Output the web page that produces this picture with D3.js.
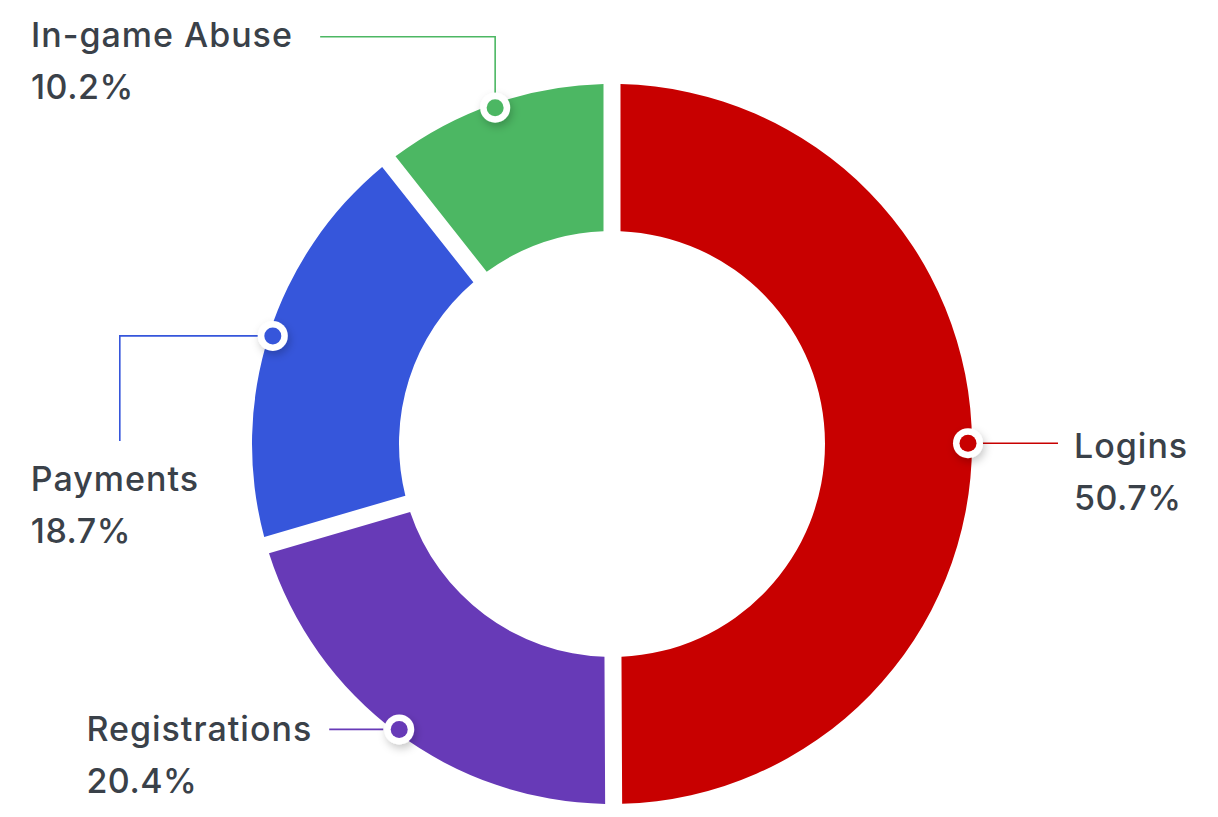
<!DOCTYPE html>
<html>
<head>
<meta charset="utf-8">
<script src="https://cdn.jsdelivr.net/npm/d3@7/dist/d3.min.js"></script>
<style>
  html, body { margin: 0; padding: 0; background: #ffffff; }
  svg { display: block; }
  text { font-family: "Inter", "Open Sans", sans-serif; fill: #3a4149; }
</style>
</head>
<body>
<svg id="chart" width="1218" height="817"></svg>
<script>
// Share of incidents by category
const categories = ["Logins", "Registrations", "Payments", "In-game Abuse"];
const shares = [50.7, 20.4, 18.7, 10.2];
const colors = ["#c80000", "#673ab7", "#3656db", "#4cb763"];

const width = 1218, height = 817;
const cx = 612, cy = 444;
const outerR = 360, innerR = 213;

const svg = d3.select("#chart");

const defs = svg.append("defs");
const shadow = defs.append("filter").attr("id", "dotShadow")
  .attr("x", "-60%").attr("y", "-60%").attr("width", "220%").attr("height", "220%");
shadow.append("feDropShadow")
  .attr("dx", 2).attr("dy", 4).attr("stdDeviation", 4)
  .attr("flood-color", "#000").attr("flood-opacity", 0.22);

const data = categories.map((c, i) => ({ name: c, value: shares[i], color: colors[i] }));

const pie = d3.pie().sort(null).value(d => d.value)
  .startAngle(0).endAngle(2 * Math.PI)
  .padAngle(17 / outerR);

const arc = d3.arc().innerRadius(innerR).outerRadius(outerR).padRadius(outerR);

const g = svg.append("g").attr("transform", `translate(${cx},${cy})`);
const arcs = pie(data);

g.selectAll("path.slice").data(arcs).join("path")
  .attr("class", "slice")
  .attr("d", arc)
  .attr("fill", d => d.data.color);

// Label placement: side of the ring and how the leader line runs
const labelLayout = {
  "Logins":        { side: "right", kind: "straight" },
  "Registrations": { side: "left",  kind: "straight" },
  "Payments":      { side: "left",  kind: "down" },
  "In-game Abuse": { side: "left",  kind: "up" }
};

const dotR = outerR - 4;
const fontSize = 34;
const lineGap = 52;

arcs.forEach(a => {
  const mid = (a.startAngle + a.endAngle) / 2;
  const mx = cx + dotR * Math.sin(mid);
  const my = cy - dotR * Math.cos(mid);
  const lay = labelLayout[a.data.name];
  const col = a.data.color;
  const label = svg.append("g");
  let pts, tx, ty, anchor = "start";

  if (lay.kind === "straight" && lay.side === "right") {
    pts = [[mx + 14, my], [mx + 90, my]];
    tx = mx + 106; ty = my + 15;
  } else if (lay.kind === "straight") {
    pts = [[mx - 16, my], [mx - 70, my]];
    tx = mx - 87; ty = my + 12;
    anchor = "end";
  } else if (lay.kind === "down") {
    const vx = mx - 153;
    pts = [[mx - 15, my], [vx, my], [vx, my + 105]];
    tx = vx - 89; ty = my + 155;
  } else {
    const vy = my - 71;
    pts = [[mx, my - 15], [mx, vy], [mx - 175, vy]];
    tx = 31; ty = vy + 10;
  }

  label.append("path")
    .attr("d", d3.line()(pts))
    .attr("fill", "none")
    .attr("stroke", col)
    .attr("stroke-width", 1.6);

  label.append("circle")
    .attr("cx", mx).attr("cy", my).attr("r", 15)
    .attr("fill", "#ffffff")
    .attr("filter", "url(#dotShadow)");
  label.append("circle")
    .attr("cx", mx).attr("cy", my).attr("r", 8.5)
    .attr("fill", col);

  const t1 = label.append("text")
    .attr("x", tx).attr("y", ty)
    .attr("text-anchor", anchor)
    .style("font-size", fontSize + "px")
    .style("font-weight", 500)
    .style("letter-spacing", "1px")
    .text(a.data.name);
  const t2 = label.append("text")
    .attr("y", ty + lineGap)
    .attr("text-anchor", "start")
    .style("font-size", fontSize + "px")
    .style("font-weight", 500)
    .style("letter-spacing", "0.5px")
    .text(d3.format(".1f")(a.data.value) + "%");
  // second line starts where the name starts
  const bb = t1.node().getBBox();
  t2.attr("x", bb.x);
});
</script>
</body>
</html>
